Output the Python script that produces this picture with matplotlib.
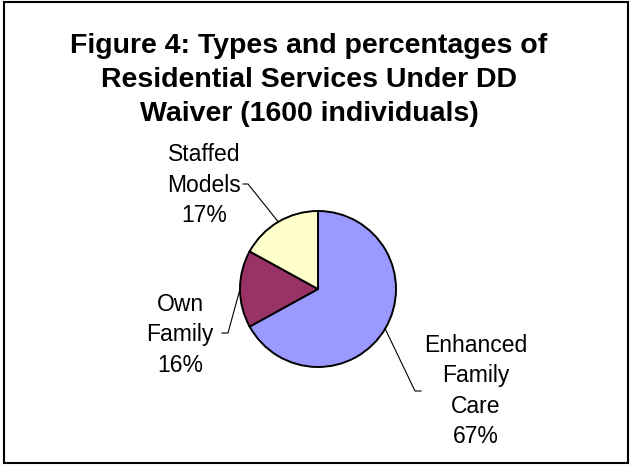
import numpy as np
import matplotlib
matplotlib.use("Agg")
import matplotlib.pyplot as plt
from matplotlib.patches import Rectangle

plt.rcParams['font.family'] = ['Liberation Sans', 'DejaVu Sans']

labels = ["Enhanced\nFamily\nCare", "Own\nFamily", "Staffed\nModels"]
values = [67, 16, 17]
colors = ["#9999FF", "#993366", "#FFFFCC"]
title = "Figure 4: Types and percentages of\nResidential Services Under DD\nWaiver (1600 individuals)"

W, H = 630, 465
fig = plt.figure(figsize=(W / 100, H / 100), dpi=100)
ax = fig.add_axes([0, 0, 1, 1])

# pie in pixel coords, y up
cx, cy, r = 318, H - 289, 78
wedges, _ = ax.pie(values, colors=colors, startangle=90, counterclock=False,
                   center=(cx, cy), radius=r,
                   wedgeprops=dict(edgecolor="black", linewidth=1.4))

# label block centres, elbow and end of leader line (pixel coords from top)
lab_pos = [(476, 391), (180, 335), (204, 185)]
elbows = [((415, 391), (421, 391)), ((228, 333), (222, 333)), ((248, 184), (243, 184))]

total = sum(values)
for w, lab, v, (lx, ly), (el, en) in zip(wedges, labels, values, lab_pos, elbows):
    mid = np.deg2rad((w.theta1 + w.theta2) / 2)
    ex, ey = cx + r * np.cos(mid), cy + r * np.sin(mid)
    ax.plot([ex, el[0], en[0]], [ey, H - el[1], H - en[1]], color="black", lw=0.8)
    pct = round(100 * v / total)
    ax.text(lx, H - ly, f"{lab}\n{pct}%", ha="center", va="center",
            fontsize=16.5, linespacing=1.42)

ax.text(309, H - 33, title, ha="center", va="top", fontsize=20.5,
        fontweight="bold", linespacing=1.4)

ax.add_patch(Rectangle((4, 2), 624, 461, fill=False, edgecolor="black", lw=1.5))

ax.set_xlim(0, W)
ax.set_ylim(0, H)
ax.set_aspect("equal")
ax.axis("off")

fig.savefig("out.png", dpi=100)
